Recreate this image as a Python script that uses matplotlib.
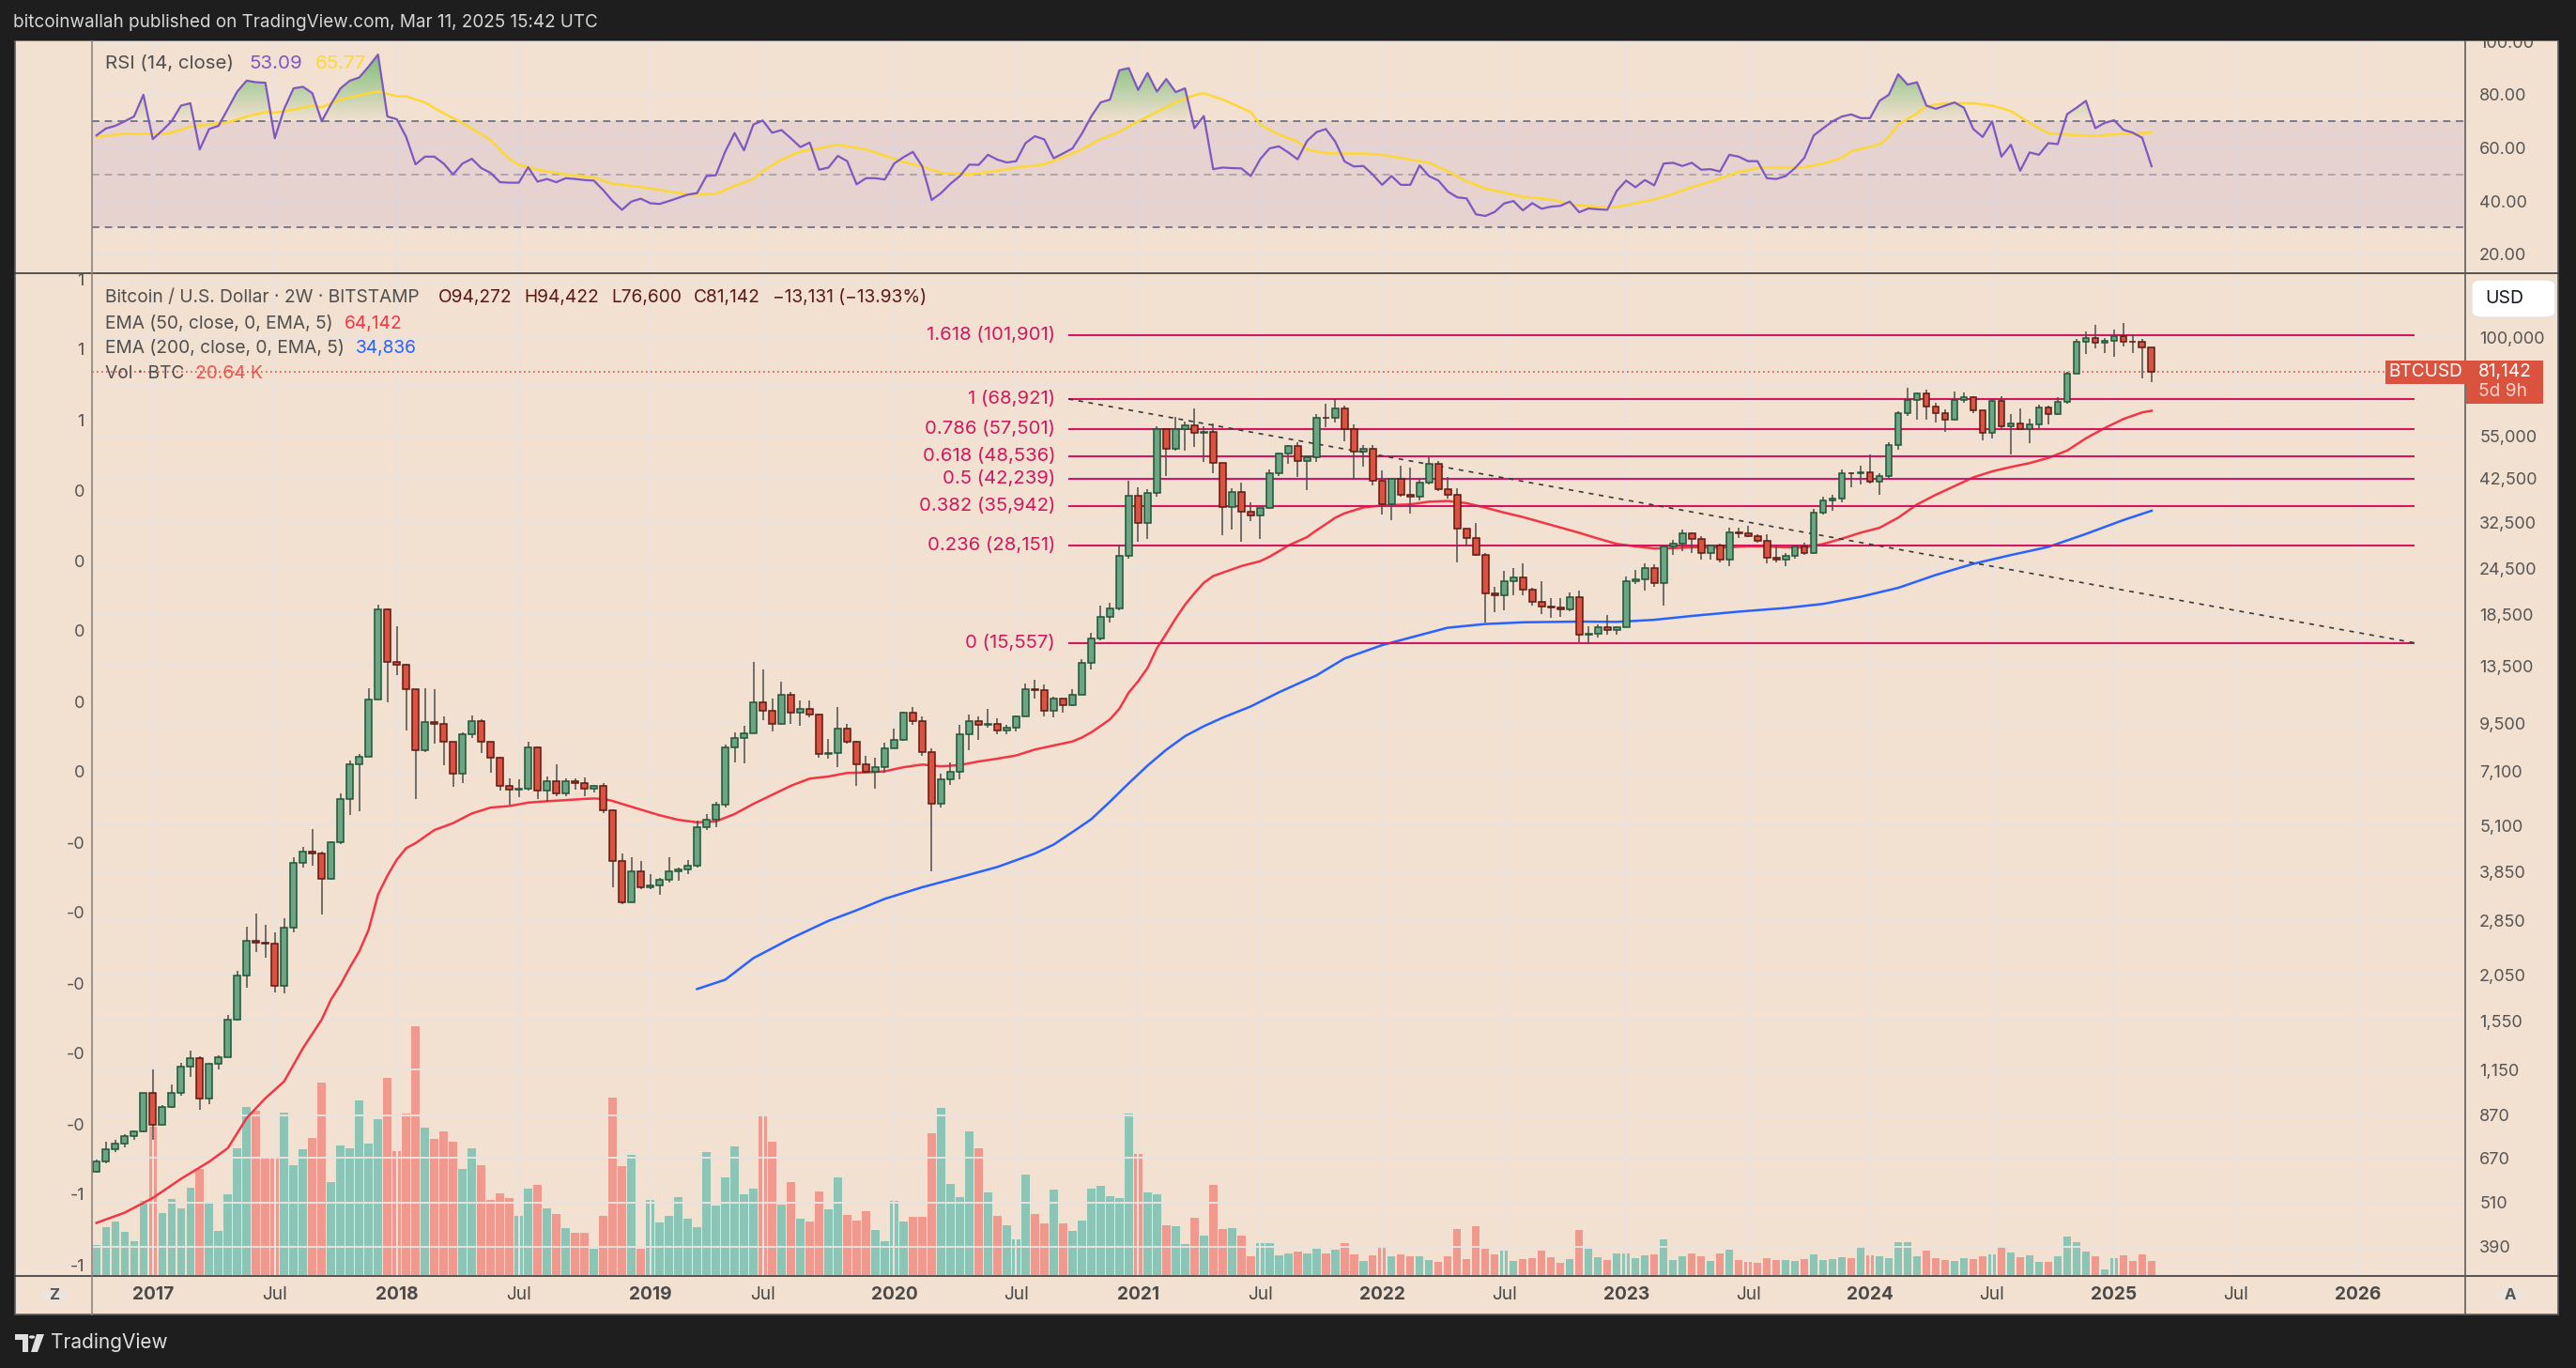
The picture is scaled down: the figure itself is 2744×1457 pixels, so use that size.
import numpy as np
import pandas as pd
import matplotlib
matplotlib.use("Agg")
import matplotlib.pyplot as plt
import matplotlib.dates as mdates
from matplotlib.colors import LinearSegmentedColormap
from matplotlib.lines import Line2D
from matplotlib.patches import Rectangle, FancyBboxPatch, Circle, Polygon, PathPatch
from matplotlib.path import Path
from matplotlib.ticker import NullLocator

plt.rcParams["font.family"] = ["Inter", "DejaVu Sans"]

# ---------------- data (BTCUSD, Bitstamp, 2W bars) ----------------
first_bar = "2016-10-10"
first_open = 615
view_start, view_end = "2016-10-03 07:00", "2026-06-12 12:00"

closes = [
    655, 705, 730, 765, 790, 998, 820, 915, 1000, 1170,
    1230, 965, 1190, 1240, 1560, 2040, 2520, 2500, 2480, 1915,
    2730, 4050, 4350, 4300, 3680, 4600, 6000, 7400, 7780, 11000,
    19100, 13850, 13600, 11700, 8100, 9600, 9500, 8500, 7000, 8900,
    9650, 8500, 7700, 6500, 6350, 6400, 8200, 6300, 6700, 6200,
    6700, 6600, 6400, 6480, 5600, 4100, 3200, 3850, 3500, 3540,
    3660, 3850, 3900, 3990, 5050, 5300, 5800, 8200, 8700, 8980,
    10800, 10250, 9500, 11300, 10150, 10400, 10050, 7900, 7950, 9200,
    8500, 7400, 7100, 7300, 8150, 8600, 10150, 9650, 8000, 5830,
    6780, 7100, 8900, 9650, 9450, 9460, 9100, 9250, 9950, 11700,
    11650, 10250, 11050, 10650, 11350, 13750, 15950, 18200, 19150, 26500,
    38200, 32300, 38900, 57400, 50950, 57300, 58700, 56200, 56500, 46700,
    35600, 39000, 34700, 33800, 35400, 43800, 49300, 51800, 47300, 48200,
    61500, 61300, 65000, 57200, 50100, 50800, 41800, 36300, 42400, 38400,
    38000, 41300, 46400, 39700, 38500, 31300, 29450, 26600, 21000, 20850,
    22600, 23200, 21500, 19950, 19400, 19300, 19050, 20600, 16300, 16450,
    17100, 16850, 17100, 22700, 22900, 24600, 22400, 28000, 28500, 30300,
    29250, 26900, 28100, 25850, 30500, 30300, 29800, 29050, 26100, 25850,
    26500, 27950, 26850, 34500, 37050, 37450, 43800, 43700, 43950, 41600,
    43000, 52100, 63100, 68400, 71300, 65700, 63100, 60800, 68500, 69600,
    64300, 55900, 68200, 58200, 59500, 57300, 59100, 65600, 63000, 67900,
    80400, 97800, 99800, 97300, 98200, 101300, 97700, 97500, 94273, 81142,
]
highs = [
    662, 740, 750, 775, 795, 1000, 1150, 925, 1050, 1195,
    1290, 1250, 1195, 1255, 1600, 2100, 2750, 2980, 2780, 2650,
    2900, 4200, 4480, 4980, 4350, 4620, 6200, 7600, 7890, 11800,
    19666, 19200, 17200, 13700, 11750, 11800, 11700, 9950, 8500, 9000,
    9990, 9750, 8500, 7770, 6800, 6780, 8500, 8250, 6880, 7400,
    6820, 6800, 6850, 6550, 6600, 5630, 4300, 4200, 4100, 3780,
    3710, 4200, 3950, 4120, 5250, 5460, 5900, 8350, 9000, 9350,
    13880, 13200, 11100, 12300, 11500, 10950, 10950, 10100, 8650, 10500,
    9500, 8550, 7800, 7700, 8450, 9200, 10200, 10500, 9950, 8150,
    7000, 7500, 9450, 10050, 9950, 10400, 9800, 9450, 10000, 12100,
    12450, 12080, 11180, 11100, 11750, 14100, 16500, 19500, 19900, 28400,
    41950, 40100, 39800, 58350, 57500, 61800, 60100, 64900, 58400, 59500,
    46600, 39900, 41300, 36600, 35500, 44800, 49800, 51900, 52900, 48800,
    62900, 67000, 69000, 66300, 59100, 51900, 52100, 44500, 42600, 45900,
    45300, 42400, 48200, 47200, 42900, 40000, 31000, 32400, 26900, 21900,
    24200, 24600, 25200, 21800, 22700, 20400, 20450, 21100, 21450, 17200,
    17450, 18400, 17200, 23350, 24250, 25250, 25100, 28400, 29200, 31000,
    30500, 29800, 28150, 28450, 31400, 31500, 31800, 30100, 30250, 28150,
    26900, 28050, 28600, 35200, 38000, 38400, 44800, 44000, 45900, 49050,
    43900, 52900, 64000, 73800, 71800, 72800, 67200, 64700, 71950, 71900,
    70200, 64500, 68400, 70000, 62700, 65100, 61100, 66500, 66000, 69500,
    81500, 99600, 104000, 108300, 99900, 105000, 109300, 102500, 99500, 94422,
]
lows = [
    612, 650, 695, 715, 750, 785, 750, 820, 910, 980,
    1100, 900, 930, 1150, 1240, 1550, 1900, 2350, 2280, 1840,
    1830, 2650, 3950, 4000, 2970, 3670, 4550, 5450, 5550, 7800,
    11100, 10800, 12800, 9100, 6000, 8000, 8400, 7350, 6450, 6620,
    8700, 7950, 7050, 6300, 5780, 6070, 6330, 6000, 5880, 6100,
    6100, 6350, 6100, 6250, 5500, 3500, 3150, 3200, 3450, 3450,
    3350, 3590, 3650, 3800, 3950, 4950, 5050, 5700, 7500, 7450,
    8950, 9700, 9050, 9450, 9500, 9350, 9850, 7700, 7650, 7300,
    8400, 6500, 7050, 6400, 7050, 8250, 8550, 9450, 7800, 3850,
    5700, 6550, 6770, 8100, 8600, 9250, 8900, 8900, 9050, 9900,
    11100, 9900, 9850, 10150, 10550, 11300, 13200, 15800, 17600, 19000,
    26000, 28800, 29300, 37900, 43000, 50300, 50400, 51500, 47000, 43800,
    30000, 31000, 28800, 32700, 29300, 35200, 43000, 46500, 42800, 39600,
    47000, 58000, 59800, 53300, 42000, 45500, 40600, 34000, 32900, 38000,
    34300, 37200, 40900, 39200, 37600, 25400, 28000, 26500, 17600, 18800,
    19000, 20800, 20800, 19550, 18500, 18150, 18200, 18900, 15600, 15450,
    16050, 16300, 16350, 17100, 22300, 21350, 21950, 19550, 26600, 27200,
    26900, 25800, 25900, 25400, 24800, 29500, 29600, 28600, 25200, 25350,
    24900, 26000, 26550, 26800, 34100, 34800, 36700, 40200, 40800, 41200,
    38500, 42600, 50700, 62000, 60800, 60700, 59600, 56500, 60700, 67200,
    63400, 53500, 54300, 57100, 49000, 57100, 52600, 57500, 58900, 62400,
    66800, 80200, 90800, 94000, 91400, 89200, 95000, 91200, 78200, 76600,
]
volume_k = [
    44.0, 70.2, 78.4, 63.3, 49.5, 108.2, 217.0, 90.8, 111.5, 97.7,
    128.0, 155.5, 106.0, 64.7, 118.3, 185.8, 246.3, 240.8, 172.0, 173.4,
    238.0, 161.0, 184.4, 200.9, 282.0, 136.2, 189.9, 185.8, 255.9, 192.6,
    228.4, 289.0, 181.6, 236.7, 364.6, 216.0, 199.5, 210.5, 195.4, 155.5,
    185.8, 161.0, 110.0, 119.7, 112.8, 86.7, 126.6, 132.1, 97.7, 89.4,
    68.8, 61.9, 61.9, 38.5, 86.7, 260.0, 159.6, 176.1, 38.5, 110.0,
    77.0, 86.7, 114.2, 82.6, 70.2, 180.3, 101.8, 143.1, 188.5, 118.3,
    126.6, 235.3, 195.4, 103.2, 136.2, 82.6, 78.4, 122.5, 96.3, 143.1,
    88.1, 79.8, 93.6, 66.0, 49.5, 108.7, 78.4, 85.3, 85.3, 207.8,
    244.9, 133.5, 114.2, 210.5, 185.8, 121.1, 86.7, 72.9, 52.3, 147.2,
    89.4, 75.7, 125.2, 75.7, 64.7, 79.8, 126.6, 130.7, 115.6, 112.8,
    236.7, 177.5, 121.1, 118.3, 72.9, 71.6, 45.4, 83.9, 57.8, 132.1,
    67.4, 68.8, 57.8, 27.5, 46.8, 46.8, 28.9, 31.6, 34.4, 31.6,
    38.5, 31.6, 37.2, 46.8, 30.3, 20.6, 28.9, 41.3, 27.5, 30.3,
    27.5, 27.5, 22.0, 19.3, 27.5, 67.4, 23.4, 71.6, 38.5, 30.3,
    35.8, 20.6, 23.4, 24.8, 35.8, 26.1, 17.9, 23.4, 66.0, 38.5,
    26.1, 22.0, 31.6, 31.6, 24.8, 28.9, 30.3, 52.3, 22.0, 27.5,
    31.6, 27.5, 20.6, 31.6, 37.2, 22.0, 19.3, 17.9, 24.8, 22.0,
    22.0, 20.6, 23.4, 30.3, 22.0, 23.4, 26.1, 24.8, 42.7, 28.9,
    27.5, 24.8, 48.2, 48.2, 27.5, 35.8, 24.8, 22.0, 20.6, 24.8,
    23.4, 27.5, 30.3, 41.3, 33.0, 26.1, 28.9, 19.3, 19.3, 27.5,
    56.4, 48.2, 34.4, 27.5, 8.3, 24.8, 28.9, 20.6, 30.3, 20.64,
]
rsi = [
    64.7, 67.3, 68.3, 70.0, 71.8, 80.0, 63.3, 66.5, 70.0, 75.9,
    76.8, 59.4, 67.1, 68.3, 74.7, 81.2, 85.3, 84.7, 84.5, 63.6,
    74.7, 82.4, 83.0, 80.6, 70.0, 76.5, 82.4, 85.3, 86.5, 90.6,
    95.1, 71.8, 70.8, 64.1, 53.8, 56.7, 56.7, 54.1, 50.0, 54.1,
    55.9, 52.4, 50.6, 47.1, 46.9, 46.9, 52.7, 47.3, 48.3, 47.1,
    48.6, 48.3, 47.9, 47.7, 44.1, 40.0, 36.7, 39.8, 40.9, 39.2,
    38.9, 40.0, 41.2, 42.4, 43.0, 49.4, 49.7, 58.6, 65.6, 59.1,
    68.8, 70.3, 65.7, 66.7, 63.6, 60.3, 62.0, 51.8, 52.6, 57.0,
    55.0, 46.3, 48.6, 48.6, 48.1, 54.1, 56.5, 58.5, 53.0, 40.4,
    43.0, 46.5, 49.4, 53.7, 53.6, 57.4, 55.6, 54.5, 55.0, 61.8,
    64.4, 63.2, 56.1, 57.9, 59.8, 65.3, 71.8, 77.1, 78.2,
    89.2, 90.0, 81.8, 88.2, 81.2, 85.9, 81.0, 82.4, 67.4, 72.0,
    52.0, 52.6, 52.4, 52.3, 49.4, 55.7, 59.8, 60.6, 58.3, 55.7,
    62.6, 65.9, 67.1, 62.4, 54.9, 53.0, 53.2, 50.0, 46.1, 49.4,
    46.1, 46.1, 53.4, 49.4, 47.7, 43.6, 41.4, 41.0, 35.0, 34.4,
    35.9, 39.1, 40.0, 36.5, 39.2, 37.1, 37.9, 38.2, 39.8, 35.8,
    37.2, 36.9, 36.7, 43.8, 47.7, 45.2, 47.9, 45.9, 54.1, 54.4,
    53.2, 54.4, 51.8, 52.0, 51.1, 57.4, 56.7, 55.0, 55.0, 48.6,
    48.3, 49.4, 52.4, 56.3, 64.7, 67.4, 70.0, 71.8, 72.6, 71.2,
    71.2, 77.7, 80.0, 87.7, 83.8, 84.7, 75.9, 74.7, 75.9, 77.1,
    75.1, 67.1, 64.1, 70.0, 56.7, 61.2, 51.4, 58.3, 57.4, 61.8,
    61.4, 72.7, 75.1, 77.7, 67.4, 69.4, 70.4, 66.8, 65.7, 63.8,
    53.09,
]
rsi_ma_bars = [0, 3, 7, 8, 10, 14, 16, 18, 19, 21, 23, 24, 26, 28, 30, 32, 33, 35, 37, 39,
               42, 44, 45, 47, 50, 53, 55, 58, 61, 63, 64, 66, 68, 70, 71, 73, 75, 77, 79, 82,
               84, 86, 88, 90, 93, 96, 98, 101, 103, 105, 107, 109, 111, 113, 115, 117, 118, 120, 123, 124,
               126, 128, 129, 131, 133, 135, 137, 140, 142, 144, 146, 148, 150, 152, 155, 157, 159, 162, 164, 166,
               168, 170, 172, 175, 177, 179, 182, 184, 186, 187, 190, 191, 192, 194, 195, 197, 200, 202, 204, 206,
               208, 210, 213, 215, 217, 219]
rsi_ma_vals = [64.1, 65.3, 65.2, 65.7, 68.0, 69.6, 71.8, 73.5, 73.3, 74.4, 75.9, 75.3, 78.2, 79.8, 81.2, 79.4, 79.4, 77.1, 73.0, 69.4,
               63.0, 55.9, 53.6, 51.8, 50.0, 48.9, 46.5, 45.3, 43.6, 42.6, 42.4, 42.7, 45.7, 48.3, 51.2, 55.6, 58.6, 59.8, 61.2, 59.4,
               57.1, 54.7, 53.0, 50.6, 50.0, 51.4, 52.6, 53.8, 56.5, 59.4, 63.3, 66.0, 70.0, 73.5, 77.1, 79.8, 80.6, 78.2, 73.5, 68.8,
               65.0, 62.4, 59.4, 58.0, 57.9, 57.9, 57.4, 55.6, 54.4, 51.2, 47.4, 44.7, 43.2, 41.6, 40.6, 38.9, 38.0, 37.7, 39.2, 40.6,
               42.7, 45.2, 47.3, 50.9, 52.4, 52.7, 52.7, 54.1, 56.3, 58.8, 61.2, 64.1, 68.8, 73.0, 75.7, 76.8, 76.8, 75.9, 73.9, 69.4,
               65.5, 65.0, 64.5, 65.1, 65.3, 65.77]
ema50_bars = [0, 3, 6, 9, 12, 14, 16, 18, 20, 22, 24, 25, 26, 27, 28, 29, 30, 31, 32, 33,
              34, 36, 38, 40, 42, 44, 46, 48, 50, 52, 53, 54, 55, 56, 58, 60, 62, 64, 66, 68,
              70, 72, 74, 76, 78, 80, 82, 84, 86, 88, 90, 92, 94, 96, 98, 100, 102, 104, 105, 106,
              107, 108, 109, 110, 111, 112, 113, 114, 115, 116, 117, 118, 119, 120, 122, 124, 125, 126, 127, 128,
              129, 130, 131, 132, 133, 134, 135, 136, 138, 140, 142, 144, 146, 148, 150, 152, 154, 156, 158, 160,
              162, 164, 166, 168, 170, 172, 174, 176, 178, 180, 182, 184, 186, 188, 190, 192, 194, 196, 198, 200,
              202, 204, 206, 208, 210, 212, 214, 216, 218, 219]
ema50_vals = [451, 480, 525, 590, 655, 712, 855, 965, 1070, 1310, 1560, 1765, 1930, 2145, 2365, 2700, 3345, 3755, 4140, 4440,
              4580, 4960, 5175, 5490, 5690, 5745, 5865, 5915, 5955, 6000, 6015, 6000, 5925, 5820, 5620, 5430, 5280, 5200, 5230, 5470,
              5820, 6150, 6500, 6790, 6880, 7030, 7050, 7100, 7280, 7400, 7320, 7375, 7540, 7670, 7820, 8110, 8310, 8520, 8725, 9005,
              9365, 9750, 10400, 11485, 12300, 13335, 15050, 16450, 18045, 19630, 21060, 22440, 23385, 23860, 24850, 25600, 26310, 27205, 28165, 28910,
              29660, 30905, 32090, 33375, 34305, 34920, 35540, 35780, 36060, 36225, 36810, 36985, 36480, 35505, 34450, 33525, 32465, 31450, 30455, 29405,
              28455, 28025, 27675, 27720, 27880, 27850, 27880, 28045, 28005, 27865, 27830, 28440, 29375, 30480, 31385, 33400, 36190, 38400, 40500, 42700,
              44300, 45500, 46600, 48100, 50300, 54200, 57700, 61000, 63500, 64142]
ema200_bars = [64, 67, 70, 74, 78, 81, 84, 88, 92, 96, 100, 102, 104, 106, 108, 110, 112, 114, 116, 118,
               120, 123, 126, 130, 133, 137, 140, 144, 148, 152, 158, 162, 166, 170, 175, 180, 184, 188, 192, 196,
               200, 204, 208, 212, 216, 219]
ema200_vals = [1880, 1990, 2270, 2560, 2850, 3040, 3260, 3500, 3720, 3960, 4300, 4540, 4900, 5300, 5900, 6600, 7350, 8100, 8800, 9350,
               9850, 10550, 11500, 12750, 14140, 15340, 16060, 17060, 17450, 17630, 17710, 17680, 17900, 18330, 18820, 19240, 19730, 20610, 21760, 23540,
               25200, 26580, 27940, 30240, 32920, 34836]
fib_start, fib_end = "2020-09-29", "2026-03-30"
fib_high, fib_low = 68921.4, 15556.6
fib_ratios = [1.618, 1, 0.786, 0.618, 0.5, 0.382, 0.236, 0]
price_ticks = [100000, 55000, 42500, 32500, 24500, 18500, 13500, 9500, 7100, 5100,
               3850, 2850, 2050, 1550, 1150, 870, 670, 510, 390]
hidden_grid = [140000, 75000]
rsi_ticks = [20, 40, 60, 80, 100]
left_labels = ["1", "1", "1", "0", "0", "0", "0", "0", "-0", "-0", "-0", "-0", "-0", "-1", "-1"]

# ---------------- style ----------------
BG, DARK, GRID = "#f2e0d0", "#1e1e1e", "#e9e2df"
TXT, AXT = "#4f4f4f", "#555555"
UPB, UPE, DNB, DNE = "#6ba583", "#225437", "#d75442", "#5b1a13"
VUP, VDN = "#8cc5b6", "#f09a8f"
FIB = "#d0175f"
W, H = 2744, 1457
LEG = 6.9


def fx(px):
    return px / W


def fy(py):
    return 1 - py / H


fig = plt.figure(figsize=(W / 200, H / 200), dpi=200, facecolor=DARK)
fig.add_artist(Rectangle((fx(16), fy(1400)), fx(2725) - fx(16), fy(43) - fy(1400),
                         transform=fig.transFigure, facecolor=BG, edgecolor="#5c5c5c", lw=0.6, zorder=-10))

ax = fig.add_axes([fx(98), fy(1358), (2625 - 98) / W, 1067 / H])
axv = ax.twinx()
axr = fig.add_axes([fx(98), fy(290), (2625 - 98) / W, 246 / H])
ax.set_zorder(2)
axv.set_zorder(1)
axr.set_zorder(1)
for a in (ax, axv, axr):
    a.patch.set_visible(False)
    for s in a.spines.values():
        s.set_visible(False)

bar_dates = pd.date_range(first_bar, periods=len(closes), freq="14D")
x = mdates.date2num(bar_dates)
xlim = (mdates.date2num(pd.Timestamp(view_start)), mdates.date2num(pd.Timestamp(view_end)))

# x ticks: first bar of each January / July
tick_x, tick_lab, tick_bold = [], [], []
seen = set()
for d in pd.date_range(first_bar, view_end, freq="14D"):
    if d.month in (1, 7) and (d.year, d.month) not in seen:
        seen.add((d.year, d.month))
        tick_x.append(mdates.date2num(d))
        tick_lab.append(str(d.year) if d.month == 1 else "Jul")
        tick_bold.append(d.month == 1)

# ---------------- main pane ----------------
ax.set_yscale("log")
for v in price_ticks + hidden_grid:
    ax.axhline(v, color=GRID, lw=0.7, zorder=0)
for t in tick_x:
    ax.axvline(t, color=GRID, lw=0.7, zorder=0)

o = np.array([first_open] + closes[:-1], dtype=float)
c = np.array(closes, dtype=float)
up = c >= o
axv.bar(x, volume_k, width=11.9, color=np.where(up, VUP, VDN), lw=0, zorder=1)
axv.set_ylim(0, 1468)
axv.set_yticks([])

ax.vlines(x, lows, highs, color="#4d4d4d", lw=0.55, zorder=3)
ax.bar(x, np.maximum(np.abs(c - o), 1e-6), bottom=np.minimum(o, c), width=9.6,
       color=np.where(up, UPB, DNB), edgecolor=np.where(up, UPE, DNE), lw=0.55, zorder=4)

ax.plot(x[ema50_bars], ema50_vals, color="#f23645", lw=0.9, zorder=2)
ax.plot(x[ema200_bars], ema200_vals, color="#2962ff", lw=0.9, zorder=2)

fs = mdates.date2num(pd.Timestamp(fib_start))
fe = mdates.date2num(pd.Timestamp(fib_end))
for r in fib_ratios:
    lev = fib_low + r * (fib_high - fib_low)
    ax.hlines(lev, fs, fe, color=FIB, lw=0.75, zorder=2)
    ax.annotate(f"{r:g} ({lev:,.0f})", xy=(fs, lev), xytext=(-5, 0), textcoords="offset points",
                ha="right", va="center", color=FIB, fontsize=7.3, zorder=5)
ax.plot([fs, fe], [fib_high, fib_low], color="#3a3a3a", lw=0.6, ls=(0, (3, 3.5)), zorder=2)
ax.axhline(closes[-1], color="#d9533f", lw=0.6, ls=(0, (1, 2)), zorder=2)

ax.set_xlim(*xlim)
ax.set_ylim(328, 148500)
ax.yaxis.tick_right()
ax.set_yticks(price_ticks)
ax.set_yticklabels([f"{v:,}" for v in price_ticks])
ax.yaxis.set_minor_locator(NullLocator())
ax.tick_params(axis="y", which="both", length=0, pad=5.8, labelsize=6.5, labelcolor=AXT)
ax.set_xticks(tick_x)
ax.set_xticklabels(tick_lab)
ax.xaxis.set_minor_locator(NullLocator())
ax.tick_params(axis="x", length=0, pad=4.4, labelsize=6.9, labelcolor="#4a4a4a")
for lbl, b in zip(ax.get_xticklabels(), tick_bold):
    lbl.set_fontweight("bold" if b else "normal")

# ---------------- RSI pane ----------------
rsi_a = np.array(rsi)
for v in rsi_ticks:
    axr.axhline(v, color=GRID, lw=0.7, zorder=0)
for t in tick_x:
    axr.axvline(t, color=GRID, lw=0.7, zorder=0)
axr.axhspan(30, 70, facecolor="#7e57c2", alpha=0.1, lw=0, zorder=0)
axr.axhline(70, color="#787b86", lw=0.7, ls=(0, (4, 3)), zorder=1)
axr.axhline(50, color="#787b86", lw=0.7, ls=(0, (4, 3)), alpha=0.5, zorder=1)
axr.axhline(30, color="#787b86", lw=0.7, ls=(0, (4, 3)), zorder=1)

fill = axr.fill_between(x, rsi_a, 70, where=rsi_a >= 70, interpolate=True, facecolor="none", edgecolor="none")
clip = PathPatch(Path.make_compound_path(*fill.get_paths()), transform=axr.transData,
                 facecolor="none", edgecolor="none")
axr.add_patch(clip)
gcm = LinearSegmentedColormap.from_list("g", [(0.30, 0.69, 0.31, 0.0), (0.30, 0.69, 0.31, 0.85)])
im = axr.imshow(np.linspace(0, 1, 256).reshape(-1, 1), extent=[x[0], x[-1], 70, 100], origin="lower",
                aspect="auto", cmap=gcm, zorder=1)
im.set_clip_path(clip)

axr.plot(x, rsi_a, color="#7e57c2", lw=0.8, zorder=3)
axr.plot(x[rsi_ma_bars], rsi_ma_vals, color="#fdd835", lw=0.9, zorder=2)
axr.set_xlim(*xlim)
axr.set_ylim(13.2, 100.1)
axr.yaxis.tick_right()
axr.set_yticks(rsi_ticks)
axr.set_yticklabels([f"{v:.2f}" for v in rsi_ticks])
axr.set_xticks(tick_x)
axr.tick_params(axis="x", length=0, labelbottom=False)
axr.tick_params(axis="y", length=0, pad=5.8, labelsize=6.5, labelcolor=AXT)

# ---------------- chrome ----------------
fig.add_artist(Rectangle((0, fy(43)), 1, 1 - fy(43), transform=fig.transFigure, facecolor=DARK, lw=0, zorder=5))
fig.add_artist(Rectangle((0, 0), 1, fy(1401), transform=fig.transFigure, facecolor=DARK, lw=0, zorder=5))
for (x1, y1, x2, y2, col) in [(16, 290.5, 2725, 290.5, "#3a3a3a"), (16, 1358.5, 2725, 1358.5, "#3a3a3a"),
                              (2625.5, 43, 2625.5, 1400, "#5c5c5c"), (98, 43, 98, 1400, "#8c8580")]:
    fig.add_artist(Line2D([fx(x1), fx(x2)], [fy(y1), fy(y2)], transform=fig.transFigure, color=col, lw=0.6, zorder=4))

fig.text(fx(14), fy(24), "bitcoinwallah published on TradingView.com, Mar 11, 2025 15:42 UTC",
         color="#d6d6d6", fontsize=6.8, ha="left", va="center", zorder=6)

renderer = fig.canvas.get_renderer()


def seq(x0, y0, parts, size=LEG):
    xx = x0
    for s, col, gap in parts:
        t = fig.text(fx(xx), fy(y0), s, color=col, fontsize=size, ha="left", va="center", zorder=7)
        xx += t.get_window_extent(renderer).width + gap


MAR = "#5b1a13"
seq(112, 317, [("Bitcoin / U.S. Dollar · 2W · BITSTAMP", TXT, 20), ("O94,272", MAR, 13), ("H94,422", MAR, 13),
               ("L76,600", MAR, 13), ("C81,142", MAR, 13), ("−13,131 (−13.93%)", MAR, 0)])
seq(112, 345, [("EMA (50, close, 0, EMA, 5)", TXT, 12), (f"{ema50_vals[-1]:,}", "#f23645", 0)])
seq(112, 371, [("EMA (200, close, 0, EMA, 5)", TXT, 12), (f"{ema200_vals[-1]:,}", "#2962ff", 0)])
seq(112, 398, [("Vol · BTC", TXT, 12), (f"{volume_k[-1]:.2f} K", "#ef5350", 0)])
seq(112, 68, [("RSI (14, close)", TXT, 16), (f"{rsi[-1]:.2f}", "#7e57c2", 14), (f"{rsi_ma_vals[-1]:.2f}", "#fdd835", 0)],
    size=7.4)

for k, lab in enumerate(left_labels):
    fig.text(fx(90), fy(299 + 75.0 * k), lab, color=AXT, fontsize=6.5, ha="right", va="center", zorder=6)

# USD box and last-price labels
fig.add_artist(FancyBboxPatch((fx(2633), fy(338)), fx(2722) - fx(2633), fy(298) - fy(338),
                              boxstyle="round,pad=0,rounding_size=0.004", transform=fig.transFigure,
                              facecolor="white", edgecolor="#e6e0dc", lw=0.5, zorder=6))
fig.text(fx(2647), fy(318), "USD", color="#131722", fontsize=7.0, ha="left", va="center", zorder=7)

yc = H - ax.transData.transform((x[-1], closes[-1]))[1]
fig.add_artist(Rectangle((fx(2541), fy(yc + 12.5)), fx(2627) - fx(2541), 25 / H, transform=fig.transFigure,
                         facecolor="#d9533f", lw=0, zorder=6))
fig.add_artist(Rectangle((fx(2627), fy(yc + 34)), fx(2709) - fx(2627), 46.5 / H, transform=fig.transFigure,
                         facecolor="#d9533f", lw=0, zorder=6))
fig.text(fx(2584), fy(yc), "BTCUSD", color="white", fontsize=6.9, ha="center", va="center", zorder=7)
fig.text(fx(2640), fy(yc), f"{closes[-1]:,}", color="white", fontsize=6.9, ha="left", va="center", zorder=7)
fig.text(fx(2640), fy(yc + 21), "5d 9h", color="#f7d2c9", fontsize=6.9, ha="left", va="center", zorder=7)

for cx, lab in [(58, "Z"), (2674, "A")]:
    fig.add_artist(Circle((fx(cx), fy(1379)), 14 / W, transform=fig.transFigure, facecolor="#ebe4de",
                          lw=0, zorder=6))
    fig.text(fx(cx), fy(1379), lab, color="#555555", fontsize=6.0, fontweight="bold",
             ha="center", va="center", zorder=7)

# TradingView logo
LOGO = "#e0e0e0"
fig.add_artist(Polygon([(fx(16), fy(1421)), (fx(30), fy(1421)), (fx(30), fy(1440)), (fx(24), fy(1440)),
                        (fx(24), fy(1427)), (fx(16), fy(1427))], closed=True, transform=fig.transFigure,
                       facecolor=LOGO, lw=0, zorder=6))
fig.add_artist(Circle((fx(34), fy(1424)), 3.2 / W, transform=fig.transFigure, facecolor=LOGO, lw=0, zorder=6))
fig.add_artist(Polygon([(fx(39), fy(1421)), (fx(47), fy(1421)), (fx(40), fy(1440)), (fx(33), fy(1440))],
                       closed=True, transform=fig.transFigure, facecolor=LOGO, lw=0, zorder=6))
fig.text(fx(54), fy(1430), "TradingView", color=LOGO, fontsize=7.5, ha="left", va="center", zorder=7)

fig.savefig("out.png", dpi=200, facecolor=DARK)
